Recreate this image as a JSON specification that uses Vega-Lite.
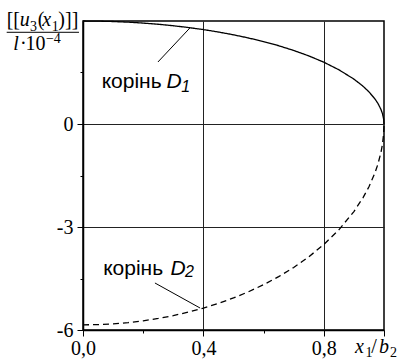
{
  "$schema": "https://vega.github.io/schema/vega-lite/v6.json",
  "width": 301,
  "height": 309,
  "autosize": {"type": "none"},
  "padding": {"left": 83, "top": 21, "right": 20, "bottom": 30},
  "background": "#ffffff",
  "config": {"view": {"stroke": "#000", "strokeWidth": 1.5}, "font": "Liberation Serif"},
  "datasets": {
    "curves": [
      {"x": 0, "y": 3, "root": "D1"},
      {"x": 0.05, "y": 2.996, "root": "D1"},
      {"x": 0.1, "y": 2.985, "root": "D1"},
      {"x": 0.15, "y": 2.966, "root": "D1"},
      {"x": 0.2, "y": 2.939, "root": "D1"},
      {"x": 0.25, "y": 2.905, "root": "D1"},
      {"x": 0.3, "y": 2.862, "root": "D1"},
      {"x": 0.35, "y": 2.81, "root": "D1"},
      {"x": 0.4, "y": 2.75, "root": "D1"},
      {"x": 0.45, "y": 2.679, "root": "D1"},
      {"x": 0.5, "y": 2.598, "root": "D1"},
      {"x": 0.55, "y": 2.505, "root": "D1"},
      {"x": 0.6, "y": 2.4, "root": "D1"},
      {"x": 0.65, "y": 2.28, "root": "D1"},
      {"x": 0.7, "y": 2.142, "root": "D1"},
      {"x": 0.75, "y": 1.984, "root": "D1"},
      {"x": 0.8, "y": 1.8, "root": "D1"},
      {"x": 0.85, "y": 1.58, "root": "D1"},
      {"x": 0.9, "y": 1.308, "root": "D1"},
      {"x": 0.93, "y": 1.103, "root": "D1"},
      {"x": 0.95, "y": 0.937, "root": "D1"},
      {"x": 0.97, "y": 0.729, "root": "D1"},
      {"x": 0.98, "y": 0.597, "root": "D1"},
      {"x": 0.99, "y": 0.423, "root": "D1"},
      {"x": 0.995, "y": 0.3, "root": "D1"},
      {"x": 0.999, "y": 0.134, "root": "D1"},
      {"x": 1, "y": 0, "root": "D1"},
      {"x": 0, "y": -5.85, "root": "D2"},
      {"x": 0.05, "y": -5.843, "root": "D2"},
      {"x": 0.1, "y": -5.821, "root": "D2"},
      {"x": 0.15, "y": -5.784, "root": "D2"},
      {"x": 0.2, "y": -5.732, "root": "D2"},
      {"x": 0.25, "y": -5.664, "root": "D2"},
      {"x": 0.3, "y": -5.581, "root": "D2"},
      {"x": 0.35, "y": -5.48, "root": "D2"},
      {"x": 0.4, "y": -5.362, "root": "D2"},
      {"x": 0.45, "y": -5.224, "root": "D2"},
      {"x": 0.5, "y": -5.066, "root": "D2"},
      {"x": 0.55, "y": -4.886, "root": "D2"},
      {"x": 0.6, "y": -4.68, "root": "D2"},
      {"x": 0.65, "y": -4.446, "root": "D2"},
      {"x": 0.7, "y": -4.178, "root": "D2"},
      {"x": 0.75, "y": -3.869, "root": "D2"},
      {"x": 0.8, "y": -3.51, "root": "D2"},
      {"x": 0.85, "y": -3.082, "root": "D2"},
      {"x": 0.9, "y": -2.55, "root": "D2"},
      {"x": 0.93, "y": -2.15, "root": "D2"},
      {"x": 0.95, "y": -1.827, "root": "D2"},
      {"x": 0.97, "y": -1.422, "root": "D2"},
      {"x": 0.98, "y": -1.164, "root": "D2"},
      {"x": 0.99, "y": -0.825, "root": "D2"},
      {"x": 0.995, "y": -0.584, "root": "D2"},
      {"x": 0.999, "y": -0.262, "root": "D2"},
      {"x": 1, "y": 0, "root": "D2"}
    ],
    "leaders": [
      {"x": 0.249, "y": 1.806, "x2": 0.355, "y2": 2.796},
      {"x": 0.239, "y": -4.631, "x2": 0.389, "y2": -5.36},
      {"x": -0.2535, "y": 2.671, "x2": -0.0133, "y2": 2.671}
    ],
    "sansText": [
      {"x": 0.062, "y": 1.057, "t": "корінь"},
      {"x": 0.067, "y": -4.398, "t": "корінь"}
    ],
    "sansItalic": [
      {"x": 0.277, "y": 1.057, "t": "D"},
      {"x": 0.291, "y": -4.398, "t": "D"}
    ],
    "sansSub": [
      {"x": 0.326, "y": 0.941, "t": "1"},
      {"x": 0.339, "y": -4.46, "t": "2"}
    ],
    "serifText": [
      {"x": -0.2535, "y": 2.84, "t": "[["},
      {"x": -0.15, "y": 2.84, "t": "("},
      {"x": -0.082, "y": 2.84, "t": ")]]"},
      {"x": -0.209, "y": 2.155, "t": "·"},
      {"x": -0.191, "y": 2.155, "t": "10"},
      {"x": 0.958, "y": -6.671, "t": "/"}
    ],
    "serifItalic": [
      {"x": -0.21, "y": 2.84, "t": "u"},
      {"x": -0.1355, "y": 2.84, "t": "x"},
      {"x": -0.2316, "y": 2.155, "t": "l"},
      {"x": 0.9037, "y": -6.671, "t": "x"},
      {"x": 0.9834, "y": -6.671, "t": "b"}
    ],
    "serifSub": [
      {"x": -0.176, "y": 2.709, "t": "3"},
      {"x": -0.104, "y": 2.709, "t": "1"},
      {"x": -0.123, "y": 2.36, "t": "−4"},
      {"x": 0.9385, "y": -6.772, "t": "1"},
      {"x": 1.0199, "y": -6.772, "t": "2"}
    ]
  },
  "encoding": {
    "x": {
      "field": "x",
      "type": "quantitative",
      "scale": {"domain": [0, 1], "nice": false, "zero": false},
      "axis": {
        "title": null,
        "values": [0, 0.2, 0.4, 0.6, 0.8, 1],
        "labelExpr": "datum.value == 0 ? '0,0' : datum.value == 0.4 ? '0,4' : datum.value == 0.8 ? '0,8' : ''",
        "labelFont": "Liberation Serif",
        "labelFontSize": 20,
        "labelColor": "#000",
        "labelPadding": 2,
        "labelFlush": false,
        "labelOverlap": false,
        "tickColor": "#000",
        "tickWidth": 1,
        "tickSize": {"condition": {"test": "datum.value == 0.2 || datum.value == 0.6", "value": 3}, "value": 6},
        "domainColor": "#000",
        "domainWidth": 1.5,
        "grid": true,
        "gridColor": "#222",
        "gridWidth": 1,
        "gridOpacity": {"condition": {"test": "datum.value == 0.4 || datum.value == 0.8", "value": 1}, "value": 0}
      }
    },
    "y": {
      "field": "y",
      "type": "quantitative",
      "scale": {"domain": [-6, 3], "nice": false, "zero": false},
      "axis": {
        "title": null,
        "values": [-6, -4.5, -3, -1.5, 0, 1.5],
        "labelExpr": "datum.value == 0 ? '0' : datum.value == -3 ? '-3' : datum.value == -6 ? '-6' : ''",
        "labelFont": "Liberation Serif",
        "labelFontSize": 20,
        "labelColor": "#000",
        "labelPadding": 4,
        "labelFlush": false,
        "labelOverlap": false,
        "tickColor": "#000",
        "tickWidth": 1,
        "tickSize": {"condition": {"test": "datum.value == -4.5 || datum.value == -1.5 || datum.value == 1.5", "value": 3}, "value": 6},
        "domainColor": "#000",
        "domainWidth": 1.5,
        "grid": true,
        "gridColor": "#222",
        "gridWidth": 1,
        "gridOpacity": {"condition": {"test": "datum.value == 0 || datum.value == -3", "value": 1}, "value": 0}
      }
    }
  },
  "layer": [
    {
      "data": {"name": "curves"},
      "mark": {"type": "line", "color": "#000", "strokeWidth": 1.3},
      "encoding": {
        "detail": {"field": "root", "type": "nominal"},
        "strokeDash": {"field": "root", "type": "nominal", "scale": {"domain": ["D1", "D2"], "range": [[1, 0], [6, 4]]}, "legend": null}
      }
    },
    {
      "data": {"name": "leaders"},
      "mark": {"type": "rule", "color": "#000", "strokeWidth": 1},
      "encoding": {"x2": {"field": "x2"}, "y2": {"field": "y2"}}
    },
    {
      "data": {"name": "sansText"},
      "mark": {"type": "text", "font": "Liberation Sans", "fontSize": 21, "align": "left", "baseline": "alphabetic", "color": "#000"},
      "encoding": {"text": {"field": "t"}}
    },
    {
      "data": {"name": "sansItalic"},
      "mark": {"type": "text", "font": "Liberation Sans", "fontSize": 21, "fontStyle": "italic", "align": "left", "baseline": "alphabetic", "color": "#000"},
      "encoding": {"text": {"field": "t"}}
    },
    {
      "data": {"name": "sansSub"},
      "mark": {"type": "text", "font": "Liberation Sans", "fontSize": 16, "fontStyle": "italic", "align": "left", "baseline": "alphabetic", "color": "#000"},
      "encoding": {"text": {"field": "t"}}
    },
    {
      "data": {"name": "serifText"},
      "mark": {"type": "text", "font": "Liberation Serif", "fontSize": 20, "align": "left", "baseline": "alphabetic", "color": "#000"},
      "encoding": {"text": {"field": "t"}}
    },
    {
      "data": {"name": "serifItalic"},
      "mark": {"type": "text", "font": "Liberation Serif", "fontSize": 20, "fontStyle": "italic", "align": "left", "baseline": "alphabetic", "color": "#000"},
      "encoding": {"text": {"field": "t"}}
    },
    {
      "data": {"name": "serifSub"},
      "mark": {"type": "text", "font": "Liberation Serif", "fontSize": 14, "align": "left", "baseline": "alphabetic", "color": "#000"},
      "encoding": {"text": {"field": "t"}}
    }
  ]
}
